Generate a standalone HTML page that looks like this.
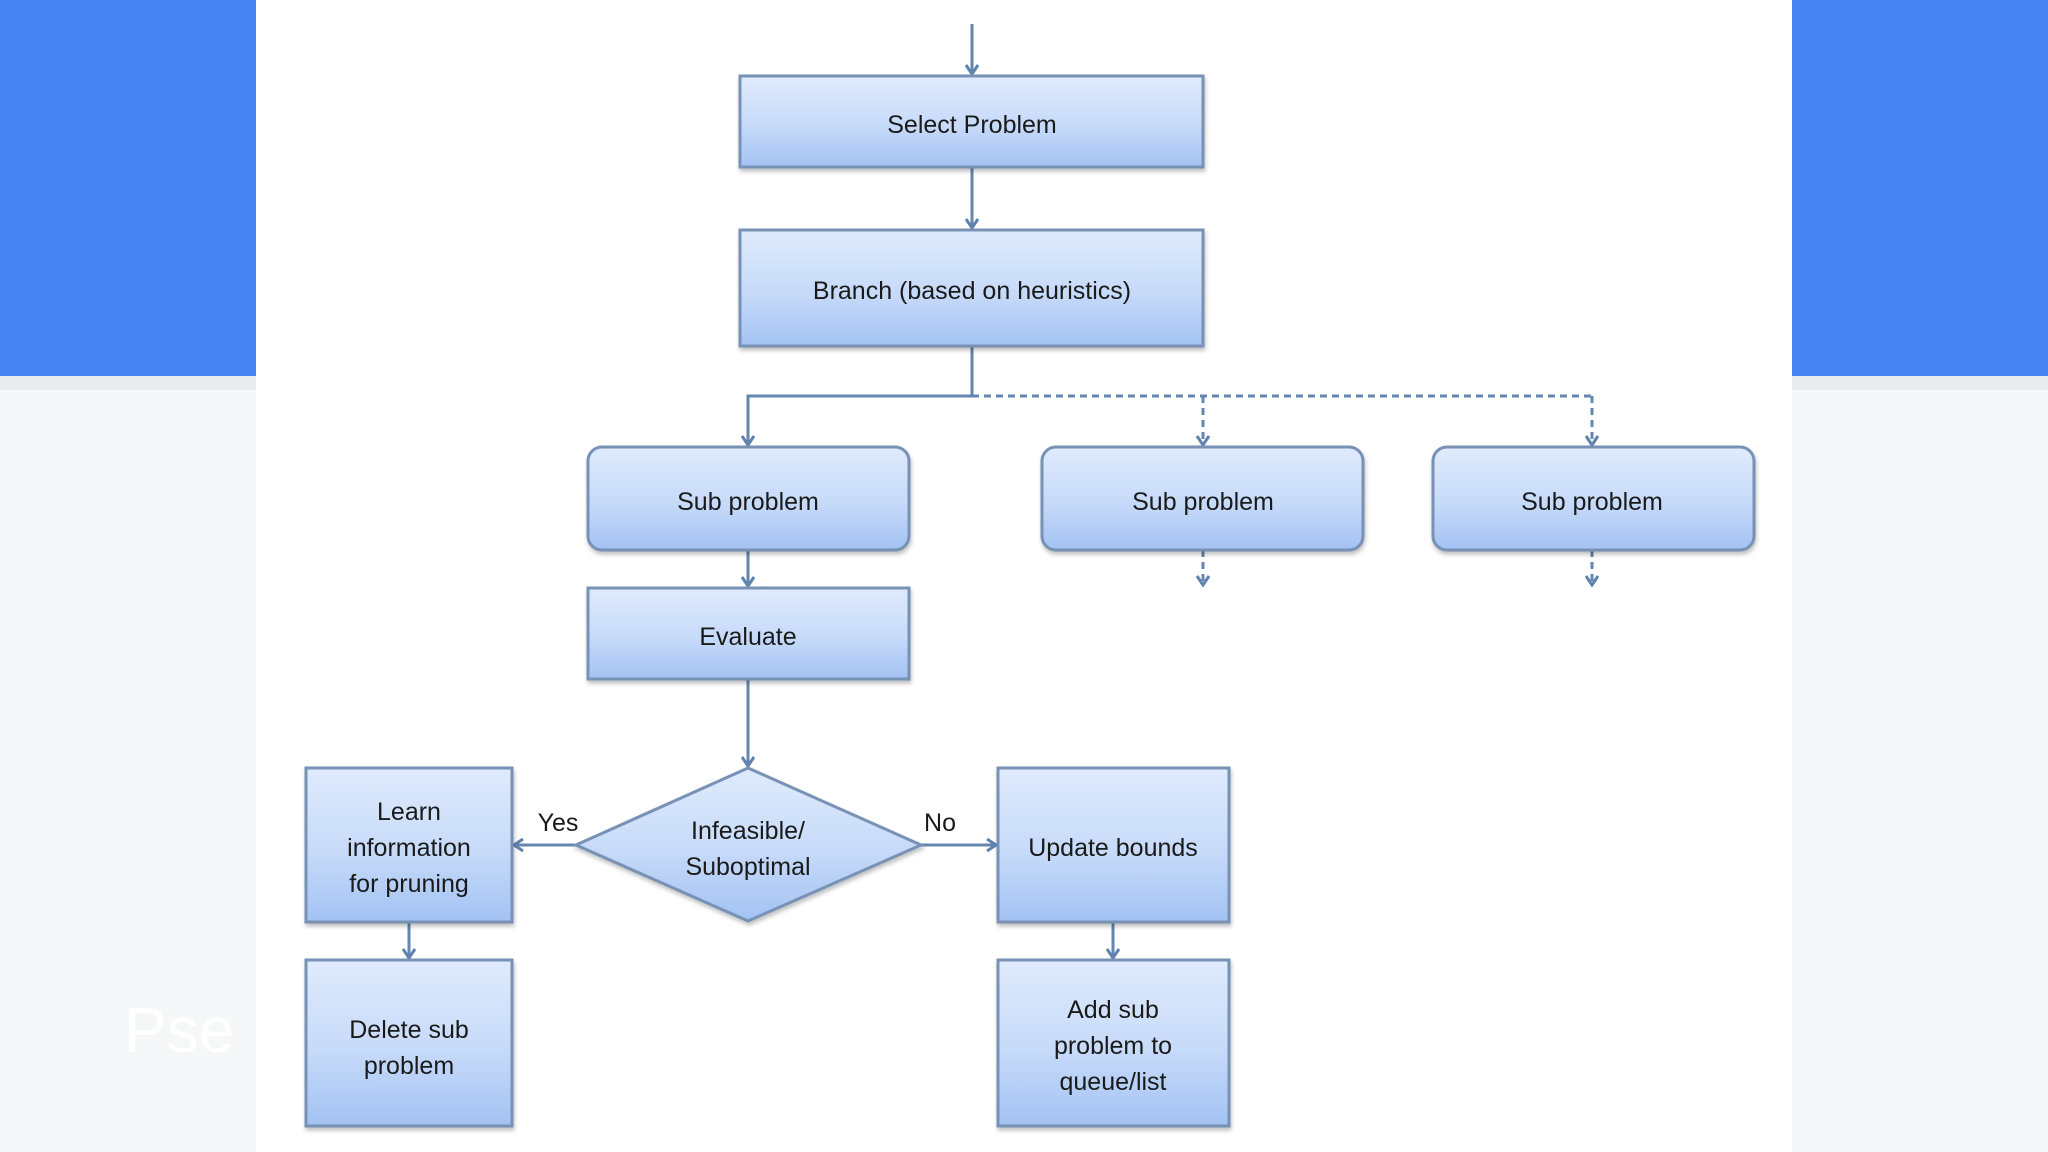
<!DOCTYPE html>
<html><head><meta charset="utf-8"><style>
html,body{margin:0;padding:0;width:2048px;height:1152px;overflow:hidden;background:#f6f7f9;}
</style></head><body>
<svg width="2048" height="1152" viewBox="0 0 2048 1152" xmlns="http://www.w3.org/2000/svg" style="position:absolute;left:0;top:0">
<defs>
<linearGradient id="g" x1="0" y1="0" x2="0" y2="1">
<stop offset="0" stop-color="#e0ebfc"/><stop offset="0.55" stop-color="#c6daf9"/><stop offset="1" stop-color="#a3c2f3"/>
</linearGradient>
<filter id="sh" x="-10%" y="-10%" width="130%" height="130%"><feDropShadow dx="1" dy="3" stdDeviation="2" flood-color="#000" flood-opacity="0.25"/></filter>
<marker id="a" markerWidth="14" markerHeight="14" refX="12" refY="7" orient="auto" markerUnits="userSpaceOnUse" viewBox="0 0 14 14">
<path d="M3,1 L12,7 L3,13" fill="none" stroke="#5f83ae" stroke-width="3"/>
</marker>
</defs>
<rect x="0" y="0" width="256" height="376" fill="#4685f2"/>
<rect x="1792" y="0" width="256" height="376" fill="#4685f2"/>
<rect x="0" y="376" width="256" height="14" fill="#e9ebef"/>
<rect x="1792" y="376" width="256" height="14" fill="#e9ebef"/>
<text x="124" y="1052" font-family="Liberation Sans, sans-serif" font-size="64" fill="#ffffff">Pse</text>
<rect x="256" y="0" width="1536" height="1152" fill="#ffffff"/>

<g stroke="#6486b0" stroke-width="3" fill="none">
<line x1="972" y1="24" x2="972" y2="74" marker-end="url(#a)"/>
<line x1="972" y1="167" x2="972" y2="228" marker-end="url(#a)"/>
<polyline points="972,346 972,396 748,396 748,445" marker-end="url(#a)"/>
<path d="M972,396 L1592,396" stroke-dasharray="7,5"/>
<line x1="1203" y1="396" x2="1203" y2="445" stroke-dasharray="7,5" marker-end="url(#a)"/>
<line x1="1592" y1="396" x2="1592" y2="445" stroke-dasharray="7,5" marker-end="url(#a)"/>
<line x1="1203" y1="550" x2="1203" y2="585" stroke-dasharray="7,5" marker-end="url(#a)"/>
<line x1="1592" y1="550" x2="1592" y2="585" stroke-dasharray="7,5" marker-end="url(#a)"/>
<line x1="748" y1="550" x2="748" y2="586" marker-end="url(#a)"/>
<line x1="748" y1="679" x2="748" y2="766" marker-end="url(#a)"/>
<line x1="576" y1="845" x2="514" y2="845" marker-end="url(#a)"/>
<line x1="921" y1="845" x2="996" y2="845" marker-end="url(#a)"/>
<line x1="409" y1="922" x2="409" y2="958" marker-end="url(#a)"/>
<line x1="1113" y1="922" x2="1113" y2="958" marker-end="url(#a)"/>
</g>

<g fill="url(#g)" stroke="#7892b6" stroke-width="3" filter="url(#sh)">
<rect x="740" y="76" width="463" height="91"/>
<rect x="740" y="230" width="463" height="116"/>
<rect x="588" y="447" width="321" height="103" rx="14"/>
<rect x="1042" y="447" width="321" height="103" rx="14"/>
<rect x="1433" y="447" width="321" height="103" rx="14"/>
<rect x="588" y="588" width="321" height="91"/>
<polygon points="748,768 921,845 748,921 576,845"/>
<rect x="306" y="768" width="206" height="154"/>
<rect x="306" y="960" width="206" height="166"/>
<rect x="998" y="768" width="231" height="154"/>
<rect x="998" y="960" width="231" height="166"/>
</g>

<g font-family="Liberation Sans, sans-serif" font-size="25" fill="#1a1a1a" text-anchor="middle">
<text x="972" y="133">Select Problem</text>
<text x="972" y="299">Branch (based on heuristics)</text>
<text x="748" y="510">Sub problem</text>
<text x="1203" y="510">Sub problem</text>
<text x="1592" y="510">Sub problem</text>
<text x="748" y="645">Evaluate</text>
<text x="748" y="839">Infeasible/</text>
<text x="748" y="875">Suboptimal</text>
<text x="409" y="820">Learn</text>
<text x="409" y="856">information</text>
<text x="409" y="892">for pruning</text>
<text x="409" y="1038">Delete sub</text>
<text x="409" y="1074">problem</text>
<text x="1113" y="856">Update bounds</text>
<text x="1113" y="1018">Add sub</text>
<text x="1113" y="1054">problem to</text>
<text x="1113" y="1090">queue/list</text>
<text x="558" y="831">Yes</text>
<text x="940" y="831">No</text>
</g>
</svg>
</body></html>
